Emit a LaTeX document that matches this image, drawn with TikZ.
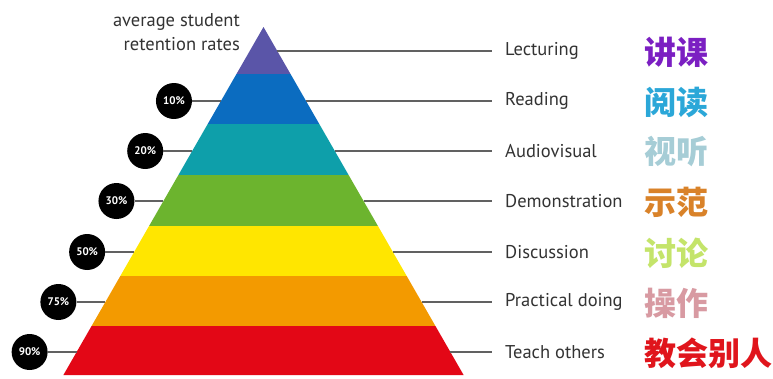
\documentclass[tikz,border=0pt]{standalone}
\usepackage{fontspec}
\setmainfont{PT Sans}
\newfontfamily\cjk{Noto Sans CJK SC}
\definecolor{b1}{HTML}{5A55A8}
\definecolor{b2}{HTML}{0B6CC0}
\definecolor{b3}{HTML}{0E9FAA}
\definecolor{b4}{HTML}{6CB42E}
\definecolor{b5}{HTML}{FFE600}
\definecolor{b6}{HTML}{F39A00}
\definecolor{b7}{HTML}{E30716}
\definecolor{z1}{HTML}{7B1FC2}
\definecolor{z2}{HTML}{2BA7D8}
\definecolor{z3}{HTML}{A6CDD6}
\definecolor{z4}{HTML}{D98229}
\definecolor{z5}{HTML}{C4E46A}
\definecolor{z6}{HTML}{D89AA2}
\definecolor{z7}{HTML}{E0151C}
\definecolor{txt}{HTML}{333333}
\begin{document}
\begin{tikzpicture}[x=1pt,y=-1pt,
  conn/.style={draw=black!62,line width=1.3pt},
  lab/.style={anchor=west,inner xsep=13pt,inner ysep=0pt,font=\fontsize{18.5}{20}\selectfont,text=txt},
  zh/.style={anchor=west,inner sep=0pt,font=\cjk\bfseries\fontsize{32}{34}\selectfont},
  pct/.style={circle,fill=black,minimum size=36pt,inner sep=0pt,text=white,font=\bfseries\fontsize{11}{12}\selectfont}]
\useasboundingbox (0,0) rectangle (773,378);
\fill[white] (0,0) rectangle (773,378);
\def\cx{263.5}\def\sl{0.575}\def\ap{27}
% bands
\foreach \ya/\yb/\c in {27/74/b1,74/124/b2,124/175/b3,175/226/b4,226/276/b5,276/326/b6,326/375/b7}{
  \pgfmathsetmacro\ha{\sl*(\ya-\ap)}
  \pgfmathsetmacro\hb{\sl*(\yb-\ap)}
  \fill[\c] (\cx-\ha,\ya) -- (\cx+\ha,\ya) -- (\cx+\hb,\yb) -- (\cx-\hb,\yb) -- cycle;
}
% title
\node[anchor=east,align=right,inner sep=0pt,text=txt,font=\fontsize{18.5}{24}\selectfont] (title) at (240,32) {average student\\retention rates};
% right labels
\foreach \i/\y/\t/\z/\zc in {1/51/Lecturing/讲课/z1,2/101/Reading/阅读/z2,3/151/Audiovisual/视听/z3,4/201/Demonstration/示范/z4,5/252/Discussion/讨论/z5,6/302/Practical doing/操作/z6,7/352/Teach others/教会别人/z7}{
  \pgfmathsetmacro\h{\sl*(\y-\ap)}
  \coordinate (r\i) at (\cx+\h,\y);
  \node[lab] (lab\i) at (492,\y) {\t};
  \node[zh,text=\zc] (zh\i) at (644,\y+1) {\z};
  \draw[conn] (r\i) -- (lab\i.west);
}
% left circles
\foreach \i/\y/\p in {2/101/10,3/151/20,4/201/30,5/252/50,6/302/75,7/352/90}{
  \pgfmathsetmacro\h{\sl*(\y-\ap)}
  \coordinate (l\i) at (\cx-\h,\y);
  \node[pct] (c\i) at (\cx-\h-47,\y) {\p\%};
  \draw[conn] (c\i) -- (l\i);
}
\end{tikzpicture}
\end{document}
